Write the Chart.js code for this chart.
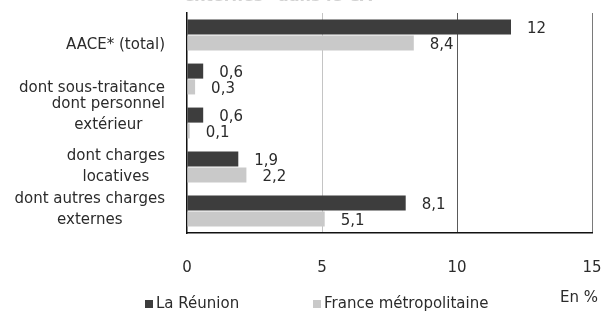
<!DOCTYPE html>
<html>
<head>
<meta charset="utf-8">
<script src="https://cdn.jsdelivr.net/npm/chart.js@4.4.1/dist/chart.umd.min.js"></script>
<style>
  html, body { margin: 0; padding: 0; background: #fff; }
  #wrap { width: 603px; height: 315px; position: relative; }
</style>
</head>
<body>
<div id="wrap"><canvas id="c" width="603" height="315"></canvas></div>
<script>
// ---- Data ----
const categories = [
  ["AACE* (total)"],
  ["dont sous-traitance"],
  ["dont personnel", "extérieur"],
  ["dont charges", "locatives"],
  ["dont autres charges", "externes"]
];
const reunion = [12, 0.6, 0.6, 1.9, 8.1];
const france = [8.4, 0.3, 0.1, 2.2, 5.1];
const xTicks = [0, 5, 10, 15];
const seriesNames = ["La Réunion", "France métropolitaine"];
const titleText = "externes* dans le CA";
const unitText = "En %";

// ---- Style ----
const FONT = '"DejaVu Sans", Verdana, sans-serif';
const TEXT = '#2b2b2b';
const colors = ['#3d3d3d', '#c9c9c9'];
const labelShift = [0.5, 0.45, -0.4, 0, -0.05]; // in line heights
const LINE_H = 21;

const fr = v => String(v).replace('.', ',');

const overlay = {
  id: 'overlay',
  afterDatasetsDraw(chart) {
    const ctx = chart.ctx;
    const xs = chart.scales.x, ys = chart.scales.y;
    ctx.save();
    ctx.font = '15px ' + FONT;
    ctx.fillStyle = TEXT;
    chart.data.datasets.forEach((ds, di) => {
      const meta = chart.getDatasetMeta(di);
      meta.data.forEach((bar, i) => {
        const v = ds.data[i];
        ctx.textAlign = 'left';
        ctx.textBaseline = 'middle';
        ctx.fillText(fr(v), xs.getPixelForValue(v) + 16, bar.y + 2);
      });
    });
    const rightEdge = chart.chartArea.left - 22;
    categories.forEach((lines, i) => {
      const cy = ys.getPixelForValue(i) + labelShift[i] * LINE_H;
      const w = Math.max(...lines.map(l => ctx.measureText(l).width));
      const cx = rightEdge - w / 2;
      const y0 = cy - (lines.length - 1) * LINE_H / 2;
      ctx.textAlign = 'center';
      ctx.textBaseline = 'middle';
      lines.forEach((l, k) => ctx.fillText(l, cx, y0 + k * LINE_H));
    });
    const legendX = [145, 313];
    const ly = 304;
    seriesNames.forEach((name, i) => {
      ctx.fillStyle = colors[i];
      ctx.fillRect(legendX[i], ly - 4, 8, 8);
      ctx.fillStyle = TEXT;
      ctx.textAlign = 'left';
      ctx.textBaseline = 'middle';
      ctx.fillText(name, legendX[i] + 11, ly);
    });
    ctx.textAlign = 'right';
    ctx.fillText(unitText, 598, 298);
    ctx.font = 'bold 16px ' + FONT;
    ctx.fillStyle = '#d2d2d2';
    ctx.textAlign = 'center';
    ctx.textBaseline = 'alphabetic';
    ctx.fillText(titleText, 278, 1);
    ctx.restore();
  }
};

new Chart(document.getElementById('c'), {
  type: 'bar',
  data: {
    labels: categories,
    datasets: [
      { label: seriesNames[0], data: reunion, backgroundColor: colors[0], categoryPercentage: 0.72, barPercentage: 0.95 },
      { label: seriesNames[1], data: france, backgroundColor: colors[1], categoryPercentage: 0.72, barPercentage: 0.95 }
    ]
  },
  options: {
    indexAxis: 'y',
    responsive: false,
    animation: false,
    layout: { padding: { top: 13, right: 11, left: 0, bottom: 0 } },
    plugins: { legend: { display: false }, tooltip: { enabled: false }, title: { display: false } },
    scales: {
      x: {
        min: 0, max: 15,
        afterBuildTicks: s => { s.ticks = xTicks.map(v => ({ value: v })); },
        afterFit: s => { s.height = 82; s.paddingRight = 0; s.paddingLeft = 0; },
        ticks: { font: { family: FONT, size: 15 }, color: TEXT, padding: 26, maxRotation: 0 },
        grid: {
          drawTicks: false,
          color: ctx => {
            const v = ctx.tick && ctx.tick.value;
            if (v === 5) return '#c4c4c4';
            if (v === 10) return '#5a5a5a';
            if (v === 15) return '#7a7a7a';
            return 'rgba(0,0,0,0)';
          }
        },
        border: { display: true, color: '#111', width: 1.5 }
      },
      y: {
        afterFit: s => { s.width = 187; },
        ticks: { display: false },
        grid: { display: false, drawTicks: false },
        border: { display: true, color: '#111', width: 1.5 }
      }
    }
  },
  plugins: [overlay]
});
</script>
</body>
</html>
